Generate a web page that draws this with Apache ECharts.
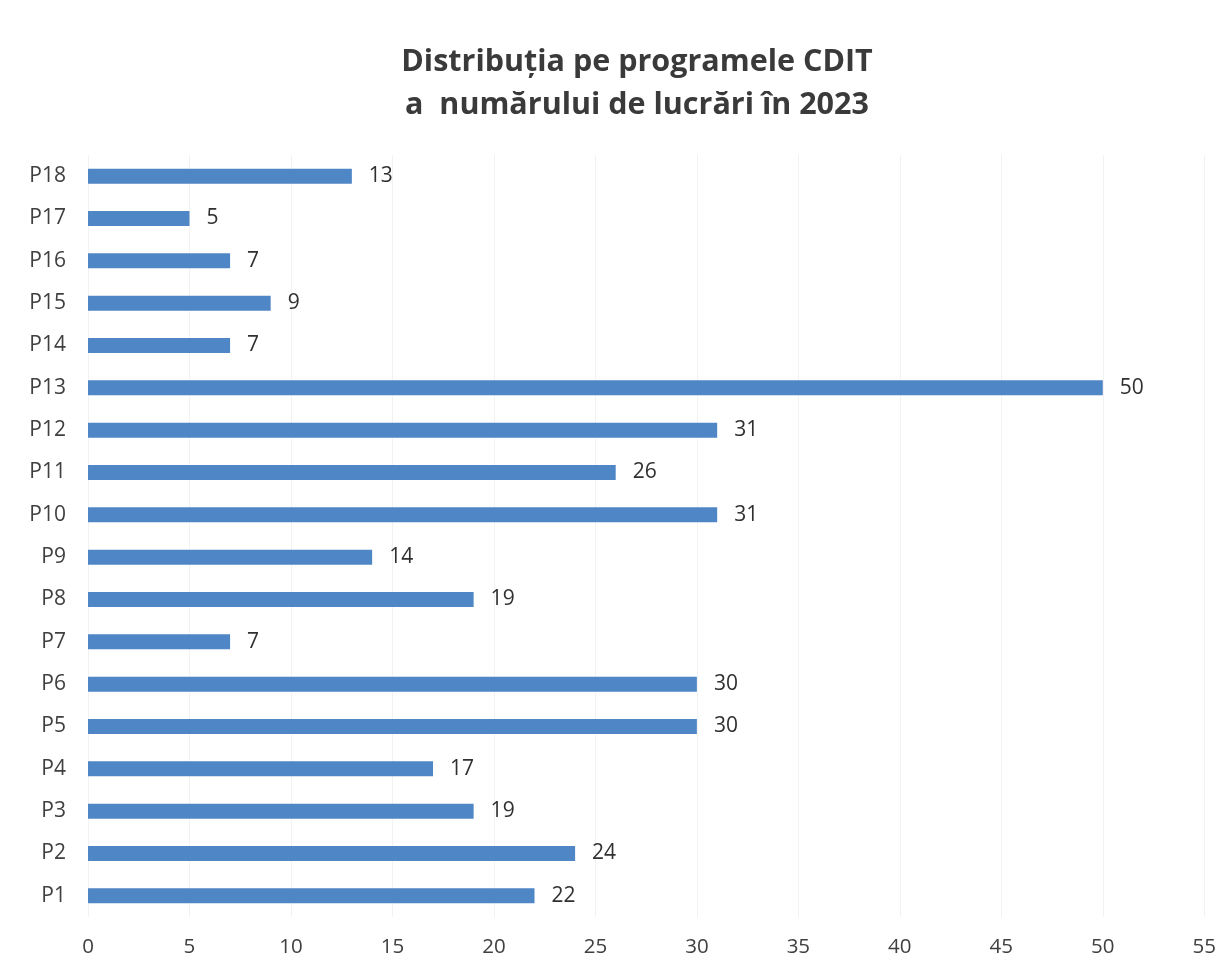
<!DOCTYPE html>
<html><head><meta charset="utf-8">
<script src="https://cdn.jsdelivr.net/npm/echarts@6/dist/echarts.min.js"></script>
<style>html,body{margin:0;padding:0;background:#fff}#c{width:1219px;height:970px}</style>
</head><body><div id="c"></div>
<script>
const categories = ['P1','P2','P3','P4','P5','P6','P7','P8','P9','P10','P11','P12','P13','P14','P15','P16','P17','P18'];
const values = [22,24,19,17,30,30,7,19,14,31,26,31,50,7,9,7,5,13];
const titleLines = ['Distribuția pe programele CDIT', 'a  numărului de lucrări în 2023'];
const chart = echarts.init(document.getElementById('c'));
chart.setOption({
  animation: false,
  backgroundColor: '#fff',
  title: {
    text: titleLines.join('\n'),
    left: 632, top: 36, textAlign: 'center',
    textStyle: {fontFamily: 'Open Sans', fontWeight: 'bold', fontSize: 30.5, color: '#3a3a3a', lineHeight: 43}
  },
  grid: {left: 88, right: 10, top: 155, bottom: 53, containLabel: false},
  xAxis: {
    type: 'value', min: 0, max: 55, interval: 5,
    axisLine: {show: false}, axisTick: {show: false},
    splitLine: {show: true, lineStyle: {color: '#f2f2f2', width: 1}},
    axisLabel: {fontFamily: 'Open Sans', fontSize: 20.5, color: '#404040', margin: 20}
  },
  yAxis: {
    type: 'category', data: categories,
    axisLine: {show: false}, axisTick: {show: false},
    axisLabel: {fontFamily: 'Open Sans', fontSize: 21, color: '#404040', margin: 22}
  },
  series: [{
    type: 'bar', data: values, barWidth: 15,
    itemStyle: {color: '#4f86c6'},
    label: {show: true, position: 'right', distance: 17, fontFamily: 'Open Sans', fontSize: 21, color: '#303030'}
  }]
});
</script></body></html>
